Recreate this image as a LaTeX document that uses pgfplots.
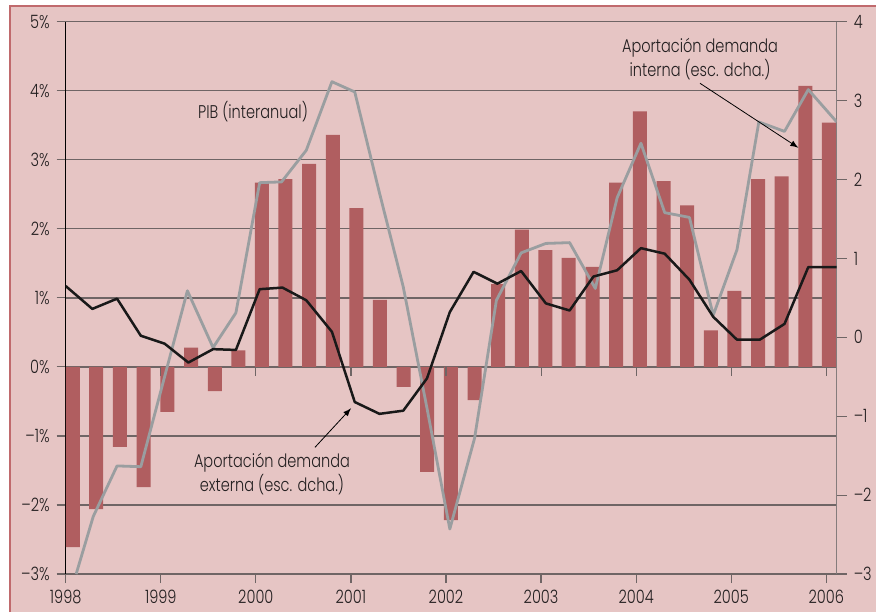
\documentclass[border=0pt]{standalone}
\usepackage{fontspec}
\setmainfont{Poppins Light}[FakeStretch=0.79]
\usepackage{pgfplots}
\pgfplotsset{compat=1.18}
\definecolor{bgpink}{HTML}{E6C5C4}
\definecolor{barred}{HTML}{B05E60}
\definecolor{linegray}{HTML}{9A9EA0}
\definecolor{gridc}{HTML}{6F6565}
\definecolor{framered}{HTML}{C06A6D}
\definecolor{txt}{HTML}{231F20}
\newcommand{\lab}{\fontsize{9.2}{10.75}\selectfont}
\begin{document}
\begin{tikzpicture}
% fondo y marco
\path[use as bounding box] (0pt,0pt) rectangle (438pt,306pt);
\fill[bgpink] (5pt,0pt) rectangle (438pt,303pt);
\draw[framered, line width=1pt] (5pt,0pt) -- (5pt,303pt) -- (438pt,303pt);

% escala izquierda: barras
\begin{axis}[
  at={(32.85pt,19pt)}, anchor=south west, scale only axis,
  width=385.5pt, height=276.15pt,
  xmin=1998, xmax=2006.109, ymin=-3, ymax=5,
  axis lines*=left,
  axis line style={-},
  x axis line style={draw=gridc, line width=0.6pt},
  y axis line style={draw=black, line width=0.5pt},
  xtick={1998,...,2006},
  xticklabels={1998,1999,2000,2001,2002,2003,2004,2005,2006},
  ytick={-3,...,5},
  yticklabels={–3\%,–2\%,–1\%,0\%,1\%,2\%,3\%,4\%,5\%},
  ymajorgrids, grid style={draw=gridc, line width=0.65pt},
  tick align=outside, major tick length=4.5pt,
  tick style={draw=gridc, line width=0.6pt},
  tick label style={font=\lab, text=txt},
  clip=false,
]
\addplot[ybar, bar width=0.147, fill=barred, draw=none] coordinates {
  (1998.075,-2.61)(1998.32,-2.06)(1998.57,-1.16)(1998.82,-1.74)
  (1999.07,-0.65)(1999.32,0.28)(1999.57,-0.35)(1999.815,0.24)
  (2000.063,2.67)(2000.31,2.72)(2000.56,2.94)(2000.81,3.36)
  (2001.057,2.30)(2001.305,0.97)(2001.554,-0.29)(2001.80,-1.52)
  (2002.05,-2.22)(2002.30,-0.48)(2002.548,1.20)(2002.797,1.99)
  (2003.045,1.69)(2003.29,1.58)(2003.542,1.45)(2003.79,2.67)
  (2004.039,3.70)(2004.288,2.69)(2004.536,2.34)(2004.785,0.53)
  (2005.033,1.10)(2005.282,2.72)(2005.53,2.76)(2005.78,4.07)(2006.027,3.54)};
\pgfplotsinvokeforeach{1999,...,2006}{
  \draw[gridc, line width=0.6pt] (axis cs:#1,0) -- ++(0pt,-4.5pt);}
\end{axis}

% escala derecha: lineas
\begin{axis}[
  at={(32.85pt,19pt)}, anchor=south west, scale only axis,
  width=385.5pt, height=276.15pt,
  xmin=1998, xmax=2006.109, ymin=-3, ymax=4,
  axis x line=none, axis y line*=right,
  axis line style={-},
  y axis line style={draw=gridc!85, line width=0.7pt},
  ytick={-3,...,4},
  yticklabels={–3,–2,–1,0,1,2,3,4},
  tick align=outside, major tick length=5pt,
  tick style={draw=gridc, line width=0.6pt},
  tick label style={font=\lab, text=txt},
]
% aportacion demanda interna
\addplot[linegray, line width=1.4pt, line join=round] coordinates {
  (1998.11,-3.0)(1998.29,-2.27)(1998.54,-1.63)(1998.79,-1.64)
  (1999.04,-0.50)(1999.28,0.59)(1999.55,-0.13)(1999.79,0.31)
  (2000.04,1.96)(2000.27,1.97)(2000.53,2.37)(2000.80,3.24)
  (2001.04,3.11)(2001.30,1.83)(2001.55,0.64)(2001.80,-0.90)
  (2002.04,-2.43)(2002.30,-1.28)(2002.53,0.47)(2002.79,1.07)
  (2003.05,1.19)(2003.30,1.20)(2003.57,0.62)(2003.80,1.77)
  (2004.05,2.46)(2004.30,1.58)(2004.56,1.52)(2004.81,0.28)
  (2005.06,1.11)(2005.29,2.73)(2005.56,2.61)(2005.81,3.14)(2006.109,2.73)};
% aportacion demanda externa
\addplot[black!90, line width=1.25pt, line join=round] coordinates {
  (1998.0,0.65)(1998.28,0.36)(1998.54,0.49)(1998.79,0.02)
  (1999.04,-0.08)(1999.29,-0.32)(1999.55,-0.15)(1999.79,-0.16)
  (2000.04,0.61)(2000.28,0.63)(2000.53,0.47)(2000.80,0.07)
  (2001.04,-0.82)(2001.30,-0.97)(2001.55,-0.93)(2001.80,-0.52)
  (2002.04,0.32)(2002.29,0.83)(2002.54,0.68)(2002.79,0.84)
  (2003.05,0.43)(2003.30,0.34)(2003.55,0.77)(2003.80,0.85)
  (2004.05,1.13)(2004.30,1.06)(2004.56,0.73)(2004.81,0.26)
  (2005.06,-0.03)(2005.30,-0.03)(2005.56,0.17)(2005.81,0.89)(2006.109,0.89)};
\end{axis}

% rotulos
\node[font=\lab, text=txt] at (126.5pt,250pt) {PIB (interanual)};
\node[font=\lab, text=txt, align=center] at (350pt,276.4pt)
  {Aportación demanda\\interna (esc. dcha.)};
\draw[-latex, line width=0.4pt] (350pt,264.35pt) -- (399.15pt,232.15pt);
\node[font=\lab, text=txt, align=center] at (136pt,69.1pt)
  {Aportación demanda\\externa (esc. dcha.)};
\draw[-latex, line width=0.4pt] (157.5pt,82.35pt) -- (175.5pt,101.85pt);
\end{tikzpicture}
\end{document}
